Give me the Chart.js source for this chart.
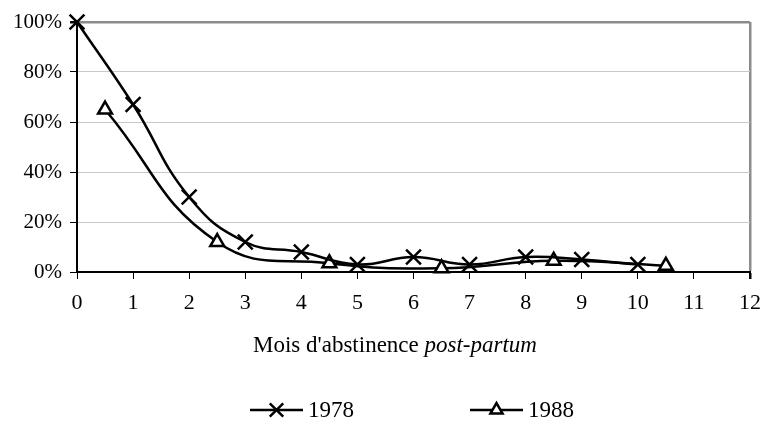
<!DOCTYPE html>
<html>
<head>
<meta charset="utf-8">
<script src="https://cdn.jsdelivr.net/npm/chart.js@4.4.1/dist/chart.umd.min.js"></script>
<style>
  body { margin: 0; background: #fff; }
  #wrap { width: 763px; height: 428px; position: relative; }
</style>
</head>
<body>
<div id="wrap"><canvas id="chart"></canvas></div>
<script>
// months since birth, share still abstaining (%)
var months1978 = [0, 1, 2, 3, 4, 5, 6, 7, 8, 9, 10];
var values1978 = [100, 67, 30, 12, 8, 3, 6, 3, 6, 5, 3];
var months1988 = [0.5, 2.5, 4.5, 6.5, 8.5, 10.5];
var values1988 = [65, 12, 3.5, 1.5, 4.5, 2.5];
var seriesLabels = ["1978", "1988"];
var titleNormal = "Mois d'abstinence ";
var titleItalic = "post-partum";

var serif = '"Liberation Serif", "Times New Roman", serif';

function toPoints(xs, ys) {
  var pts = [];
  for (var i = 0; i < xs.length; i++) pts.push({x: xs[i], y: ys[i]});
  return pts;
}

// axis title in mixed roman/italic + Excel-like legend (line with marker)
var extras = {
  id: "extras",
  afterDraw: function (chart) {
    var ctx = chart.ctx;
    ctx.save();
    ctx.fillStyle = "#000";
    ctx.textBaseline = "alphabetic";
    ctx.font = "23px " + serif;
    var w1 = ctx.measureText(titleNormal).width;
    ctx.font = "italic 23px " + serif;
    var w2 = ctx.measureText(titleItalic).width;
    var x0 = 395 - (w1 + w2) / 2;
    ctx.font = "23px " + serif;
    ctx.fillText(titleNormal, x0, 352);
    ctx.font = "italic 23px " + serif;
    ctx.fillText(titleItalic, x0 + w1, 352);

    var starts = [250, 470];
    var ly = 410;
    chart.data.datasets.forEach(function (ds, i) {
      var sx = starts[i];
      ctx.strokeStyle = ds.borderColor;
      ctx.lineWidth = ds.borderWidth;
      ctx.beginPath();
      ctx.moveTo(sx, ly);
      ctx.lineTo(sx + 53, ly);
      ctx.stroke();
      ctx.fillStyle = ds.pointBackgroundColor;
      ctx.strokeStyle = ds.pointBorderColor;
      ctx.lineWidth = ds.pointBorderWidth;
      Chart.helpers.drawPoint(ctx, {
        pointStyle: ds.pointStyle,
        radius: ds.pointRadius - 1,
        borderWidth: ds.pointBorderWidth,
        rotation: 0
      }, sx + 26.5, ly);
      ctx.fillStyle = "#000";
      ctx.font = "23px " + serif;
      ctx.textBaseline = "middle";
      ctx.fillText(ds.label, sx + 58, ly + 1);
    });
    ctx.restore();
  }
};

new Chart(document.getElementById("chart"), {
  type: "line",
  data: {
    datasets: [
      {
        label: seriesLabels[0],
        data: toPoints(months1978, values1978),
        borderColor: "#000",
        borderWidth: 2.5,
        tension: 0.45,
        fill: false,
        clip: false,
        pointStyle: "crossRot",
        pointRadius: 10.5,
        pointBorderColor: "#000",
        pointBackgroundColor: "#fff",
        pointBorderWidth: 2.5
      },
      {
        label: seriesLabels[1],
        data: toPoints(months1988, values1988),
        borderColor: "#000",
        borderWidth: 2.5,
        tension: 0.45,
        fill: false,
        clip: false,
        pointStyle: "triangle",
        pointRadius: 8,
        pointBorderColor: "#000",
        pointBackgroundColor: "#fff",
        pointBorderWidth: 2.5
      }
    ]
  },
  options: {
    responsive: true,
    maintainAspectRatio: false,
    animation: false,
    layout: { padding: { top: 22, right: 11, left: 0, bottom: 0 } },
    plugins: {
      legend: { display: false },
      tooltip: { enabled: false }
    },
    scales: {
      x: {
        type: "linear",
        min: 0,
        max: 12,
        ticks: {
          stepSize: 1,
          color: "#000",
          padding: 11,
          maxRotation: 0,
          font: { family: serif, size: 22 }
        },
        grid: {
          drawOnChartArea: true,
          color: function (c) { return c.tick && c.tick.value === 12 ? "#8c8c8c" : "rgba(0,0,0,0)"; },
          lineWidth: function (c) { return c.tick && c.tick.value === 12 ? 2.5 : 1; },
          tickColor: "#000",
          tickLength: 7
        },
        border: { color: "#000", width: 2 },
        afterFit: function (scale) {
          scale.height = 156;
          scale.paddingRight = 0;
          scale.paddingLeft = 0;
        }
      },
      y: {
        min: 0,
        max: 100,
        ticks: {
          stepSize: 20,
          color: "#000",
          padding: 8,
          font: { family: serif, size: 21 },
          callback: function (v) { return v + "%"; }
        },
        grid: {
          color: function (c) { return c.tick && c.tick.value === 100 ? "#8c8c8c" : "#c8c8c8"; },
          lineWidth: function (c) { return c.tick && c.tick.value === 100 ? 2.5 : 1; },
          tickColor: "#000",
          tickLength: 7
        },
        border: { color: "#000", width: 2 },
        afterFit: function (scale) { scale.width = 77; }
      }
    }
  },
  plugins: [extras]
});
</script>
</body>
</html>
